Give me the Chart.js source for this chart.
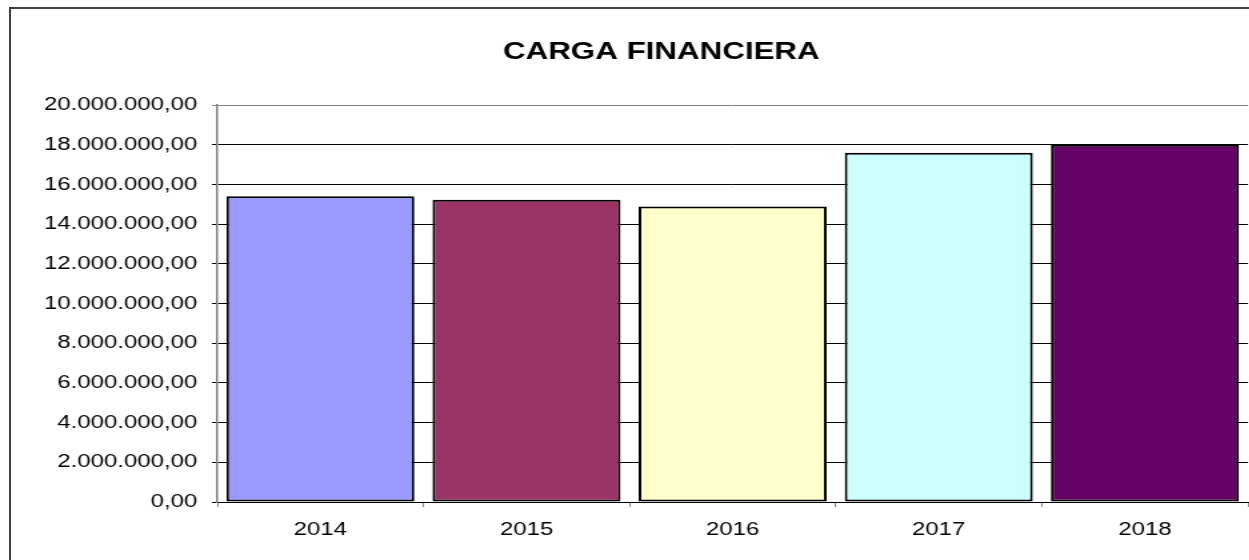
<!DOCTYPE html>
<html>
<head>
<meta charset="utf-8">
<script src="https://cdn.jsdelivr.net/npm/chart.js@4.4.1/dist/chart.umd.min.js"></script>
<style>
  html, body { margin: 0; padding: 0; background: #fff; overflow: hidden; }
  #frame {
    position: absolute; left: 9px; top: 7px; width: 1300px; height: 600px;
    border: 2px solid #404040; box-sizing: border-box;
  }
  /* the workbook chart is drawn wide, so the canvas is stretched sideways */
  #wrap {
    position: absolute; left: 0; top: 0; width: 937px; height: 560px;
    transform: scaleX(1.3333); transform-origin: 0 0;
  }
</style>
</head>
<body>
<div id="frame"></div>
<div id="wrap"><canvas id="myChart"></canvas></div>
<script>
const years = ['2014', '2015', '2016', '2017', '2018'];
const cargaFinanciera = [15410000, 15240000, 14900000, 17600000, 18010000];
const barColors = ['#9999FF', '#993366', '#FFFFCC', '#CCFFFF', '#660066'];
const yMin = 0;
const yMax = 20000000;
const yStep = 2000000;

const font = "'Liberation Sans', Arial, sans-serif";

// 20000000 -> "20.000.000,00"
function fmt(v) {
    const parts = Number(v).toFixed(2).split('.');
    const ent = parts[0].replace(/\B(?=(\d{3})+(?!\d))/g, '.');
    return ent + ',' + parts[1];
}

// title is centred a bit right of the canvas middle
const titleShift = {
    id: 'titleShift',
    afterLayout(chart) {
        if (chart.titleBlock) chart.titleBlock.left = 56;
    },
};

const ctx = document.getElementById('myChart').getContext('2d');

const myChart = new Chart(ctx, {
    type: 'bar',
    plugins: [titleShift],
    data: {
        labels: years,
        datasets: [{
            data: cargaFinanciera,
            backgroundColor: barColors,
            borderColor: '#000',
            borderWidth: 2,
            borderSkipped: false,
            barPercentage: 0.912,
            categoryPercentage: 1,
        }],
    },
    options: {
        responsive: true,
        maintainAspectRatio: false,
        devicePixelRatio: 1,
        animation: false,
        layout: {
            padding: { left: 0, right: 1, top: 0, bottom: 0 },
        },
        plugins: {
            legend: { display: false },
            tooltip: { enabled: false },
            title: {
                display: true,
                text: 'CARGA FINANCIERA',
                color: '#000',
                font: { family: font, size: 23.5, weight: 'bold' },
                padding: { top: 38, bottom: 39 },
            },
        },
        scales: {
            x: {
                grid: {
                    drawOnChartArea: false,
                    drawTicks: true,
                    tickLength: 5,
                    color: '#808080',
                    offset: true,
                },
                border: { color: '#000', width: 1 },
                ticks: {
                    color: '#000',
                    padding: 12,
                    font: { family: font, size: 18 },
                },
                afterFit: (scale) => { scale.height = 58; },
            },
            y: {
                min: yMin,
                max: yMax,
                grid: {
                    color: (c) => (c.tick && c.tick.value === yMax ? '#808080' : '#000'),
                    lineWidth: 1,
                    tickLength: 4,
                },
                border: { color: '#808080', width: 1.5 },
                ticks: {
                    stepSize: yStep,
                    color: '#000',
                    padding: 11,
                    font: { family: font, size: 18 },
                    callback: (v) => fmt(v),
                },
                afterFit: (scale) => { scale.width = 163; },
            },
        },
    },
});
</script>
</body>
</html>
